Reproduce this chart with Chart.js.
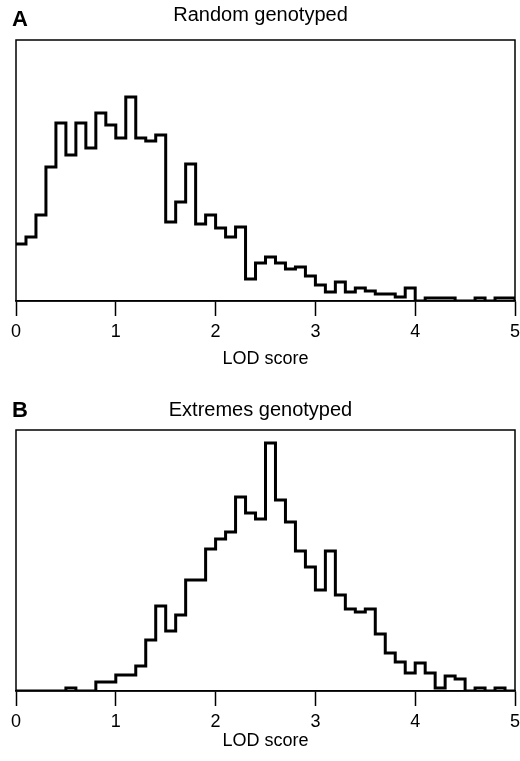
<!DOCTYPE html>
<html lang="en">
<head>
  <meta charset="UTF-8" />
  <title>LOD score histograms</title>
  <script src="https://cdn.jsdelivr.net/npm/chart.js"></script>
  <style>
    body { margin: 0; background: #fff; width: 520px; height: 761px; position: relative; overflow: hidden; }
    .panel { position: absolute; left: 0; width: 520px; }
  </style>
</head>
<body>
  <div class="panel" style="top:0;height:380px"><canvas id="chartA"></canvas></div>
  <div class="panel" style="top:380px;height:381px"><canvas id="chartB"></canvas></div>

<script>
  // bins of width 0.1 from 0 to 5 (left edges)
  const binStarts = Array.from({ length: 50 }, (_, i) => +(i * 0.1).toFixed(1));
  const xTicks = [0, 1, 2, 3, 4, 5];

  // relative frequencies
  const randomFreq = [57, 64, 86, 134, 178, 146, 178, 153, 188, 176,
                      163, 204, 163, 160, 166, 79, 99, 137, 77, 86,
                      73, 64, 74, 22, 38, 44, 38, 32, 34, 25,
                      16, 9, 19, 9, 13, 10, 7, 7, 4, 13,
                      0, 3, 3, 3, 0, 0, 3, 0, 3, 3];
  const extremesFreq = [0, 0, 0, 0, 0, 3, 0, 0, 9, 9,
                        16, 16, 25, 51, 85, 60, 76, 111, 111, 142,
                        152, 159, 194, 178, 172, 248, 191, 169, 140, 124,
                        101, 140, 96, 82, 79, 82, 57, 38, 29, 18,
                        28, 18, 3, 15, 12, 0, 3, 0, 3, 0];
  const yMax = 261;

  const FONT = '"Liberation Sans", Arial, sans-serif';

  function stepPoints(vals) {
    const pts = binStarts.map((x, i) => ({ x: x, y: vals[i] }));
    pts.push({ x: 5, y: 0 });
    return pts;
  }

  function framePlugin(letter, letterY) {
    return {
      id: 'frame' + letter,
      afterDraw(chart) {
        const { ctx, chartArea: a } = chart;
        ctx.save();
        ctx.strokeStyle = '#000';
        ctx.lineWidth = 1.5;
        ctx.strokeRect(a.left, a.top, a.right - a.left, a.bottom - a.top);
        ctx.fillStyle = '#000';
        ctx.font = 'bold 22px ' + FONT;
        ctx.textBaseline = 'middle';
        ctx.fillText(letter, 12, letterY);
        ctx.restore();
      }
    };
  }

  function makeChart(id, title, vals, opts) {
    return new Chart(document.getElementById(id), {
      type: 'line',
      data: {
        datasets: [{
          data: stepPoints(vals),
          stepped: true,
          borderColor: '#000',
          borderWidth: 3,
          pointRadius: 0,
          fill: false,
          borderJoinStyle: 'miter'
        }]
      },
      options: {
        responsive: true,
        maintainAspectRatio: false,
        animation: false,
        layout: { padding: { left: 6, right: 5, top: 0, bottom: 0 } },
        plugins: {
          legend: { display: false },
          tooltip: { enabled: false },
          title: {
            display: true,
            text: title,
            color: '#000',
            font: { family: FONT, size: 20, weight: 'normal' },
            padding: opts.titlePad
          }
        },
        scales: {
          x: {
            type: 'linear',
            min: 0,
            max: 5,
            afterBuildTicks: s => { s.ticks = xTicks.map(v => ({ value: v })); },
            afterFit: s => { s.height = opts.axisH; s.paddingLeft = 0; s.paddingRight = 0; },
            ticks: {
              color: '#000',
              padding: 5,
              maxRotation: 0,
              font: { family: FONT, size: 18 }
            },
            grid: { drawOnChartArea: false, drawTicks: true, tickLength: 15, tickColor: '#000', tickWidth: 1.5 },
            border: { display: true, color: '#000', width: 1.5 },
            title: {
              display: true,
              text: 'LOD score',
              color: '#000',
              font: { family: FONT, size: 18 },
              padding: opts.axisTitlePad
            }
          },
          y: {
            min: 0,
            max: yMax,
            ticks: { display: false },
            grid: { display: false },
            border: { display: false },
            afterFit: s => { s.width = 10; }
          }
        }
      },
      plugins: [framePlugin(opts.letter, opts.letterY)]
    });
  }

  makeChart('chartA', 'Random genotyped', randomFreq,
    { titlePad: { top: 3.5, bottom: 12.5 }, axisH: 79, axisTitlePad: { top: 4, bottom: 10 }, letter: 'A', letterY: 20 });
  makeChart('chartB', 'Extremes genotyped', extremesFreq,
    { titlePad: { top: 18, bottom: 8 }, axisH: 70, axisTitlePad: { top: 2, bottom: 9 }, letter: 'B', letterY: 31 });
</script>
</body>
</html>
